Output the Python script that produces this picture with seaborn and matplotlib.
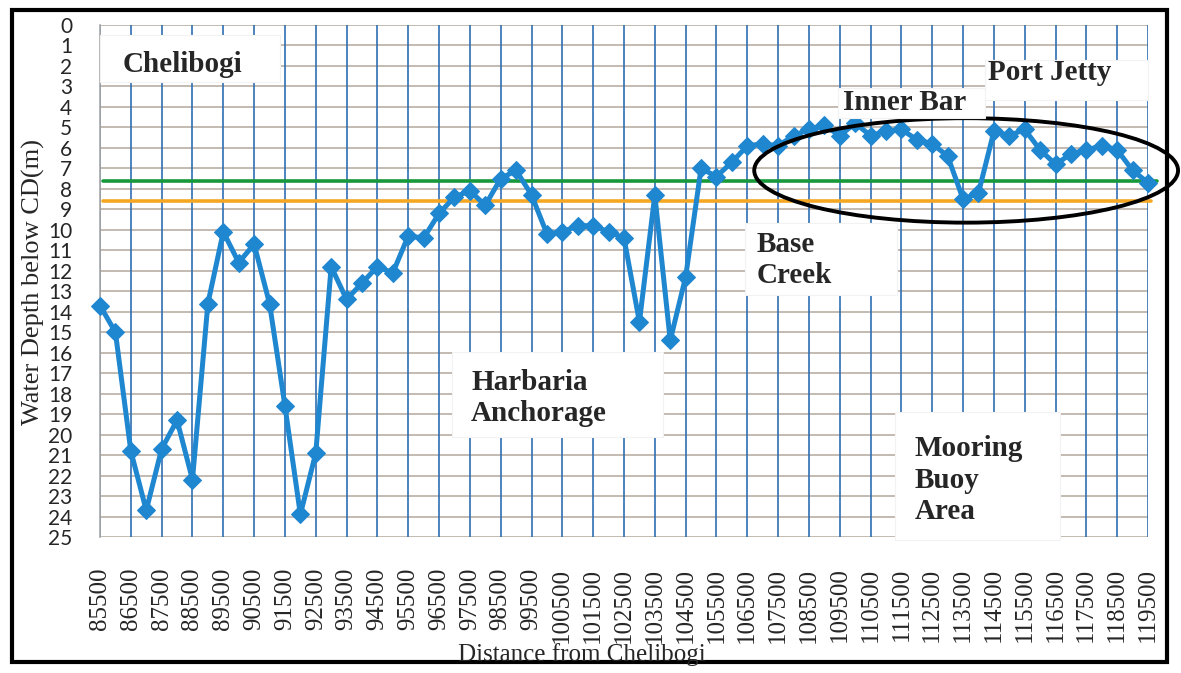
import matplotlib
matplotlib.use("Agg")
import matplotlib.pyplot as plt
from matplotlib.patches import Rectangle, Ellipse
import numpy as np
import pandas as pd
import seaborn as sns

# chainage along the channel (every 500 m)
distance = np.arange(85500, 120000, 500)
depth = [13.7, 15.0, 20.8, 23.7, 20.7, 19.3, 22.2, 13.6, 10.1, 11.6,
         10.7, 13.6, 18.6, 23.9, 20.9, 11.8, 13.4, 12.6, 11.8, 12.1,
         10.3, 10.4, 9.2, 8.4, 8.1, 8.8, 7.5, 7.1, 8.3, 10.2,
         10.1, 9.8, 9.8, 10.1, 10.4, 14.5, 8.3, 15.4, 12.3, 7.0,
         7.4, 6.7, 5.9, 5.8, 5.9, 5.4, 5.1, 4.9, 5.4, 4.8,
         5.4, 5.2, 5.1, 5.6, 5.8, 6.4, 8.5, 8.2, 5.2, 5.4,
         5.1, 6.1, 6.8, 6.3, 6.1, 5.9, 6.1, 7.1, 7.7]
green_level = 7.6
orange_level = 8.6
x_ticks = np.arange(85500, 120000, 1000)
y_ticks = list(range(0, 26))

df = pd.DataFrame({"distance": distance, "depth": depth})

sns.set_style("white")
plt.rcParams["font.family"] = ["Liberation Serif", "DejaVu Serif"]
W, H = 1181, 673
fig = plt.figure(figsize=(W / 100, H / 100), dpi=100)


def px(x0, y0, x1, y1):
    # pixel box -> figure fraction (left, bottom, width, height)
    return x0 / W, 1 - y1 / H, (x1 - x0) / W, (y1 - y0) / H


ax = fig.add_axes(px(100, 25, 1148, 537))

# grid
for xt in x_ticks:
    ax.axvline(xt, color="#2f6fb2", lw=1.2, zorder=1)
for yt in y_ticks:
    ax.axhline(yt, color="#b9aea3", lw=1.2, zorder=0.5)

# white label boxes (cover gridlines)
boxes = [(100, 35, 280, 82), (838, 88, 985, 118), (985, 60, 1148, 100),
         (745, 223, 897, 295), (452, 352, 663, 437), (895, 412, 1060, 540)]
for b in boxes:
    l, bt, w, h = px(*b)
    fig.patches.append(Rectangle((l, bt), w, h, transform=fig.transFigure,
                                 facecolor="white", edgecolor="#f2f2f2",
                                 lw=0.8, zorder=2))

# reference levels
ax.plot([distance[0] + 100, distance[-1] + 300], [green_level] * 2,
        color="#17993a", lw=2.6, zorder=3, clip_on=False)
ax.plot([distance[0] + 100, distance[-1] + 100], [orange_level] * 2,
        color="#f5a623", lw=2.6, zorder=3, clip_on=False)

sns.lineplot(data=df, x="distance", y="depth", ax=ax, color="#1f86d0",
             lw=3.6, marker="D", markersize=9.5, markeredgecolor="#1f86d0",
             zorder=4, clip_on=False)

ax.add_patch(Ellipse((113600, 7.1), 13750, 5.1, fill=False,
                     edgecolor="black", lw=2.8, zorder=5, clip_on=False))

ax.set_xlim(85500, 119500)
ax.set_ylim(25, 0)
ax.set_xticks(x_ticks)
ax.set_xticklabels([str(v) for v in x_ticks], rotation=90, va="top")
for t in ax.get_xticklabels():
    t.set_fontfamily(["Liberation Serif"])
    t.set_fontsize(18)
ax.set_yticks(y_ticks)
ax.set_yticklabels([str(v) for v in y_ticks])
for t in ax.get_yticklabels():
    t.set_fontfamily(["Lato"])
    t.set_fontsize(15)
ax.tick_params(axis="x", length=0, pad=22)
ax.tick_params(axis="y", length=0, pad=20)
for s in ["top", "right", "bottom"]:
    ax.spines[s].set_visible(False)
ax.spines["left"].set_color("#a8a8a8")
ax.spines["left"].set_linewidth(1.2)
ax.set_xlabel("")
ax.set_ylabel("")

fig.text(33 / W, 1 - 282 / H, "Water Depth below CD(m)", rotation=90,
         ha="center", va="center", fontsize=19, family="Liberation Serif")
fig.text(582 / W, 1 - 655 / H, "Distance from Chelibogi", ha="center",
         va="center", fontsize=18, family="Liberation Serif")

labels = [(123, 65, "Chelibogi"), (843, 103, "Inner Bar"),
          (988, 72, "Port Jetty"), (757, 260, "Base\nCreek"),
          (471, 398, "Harbaria\nAnchorage"), (915, 480, "Mooring\nBuoy\nArea")]
for x, y, t in labels:
    fig.text(x / W, 1 - y / H, t, ha="left", va="center", fontsize=21,
             fontweight="bold", family="Liberation Serif", linespacing=1.2,
             zorder=6)

# outer frame
fig.patches.append(Rectangle((12 / W, 1 - 662 / H), 1155 / W, 652 / H,
                             transform=fig.transFigure, fill=False,
                             edgecolor="black", lw=3))

fig.savefig("out.png", dpi=100)
